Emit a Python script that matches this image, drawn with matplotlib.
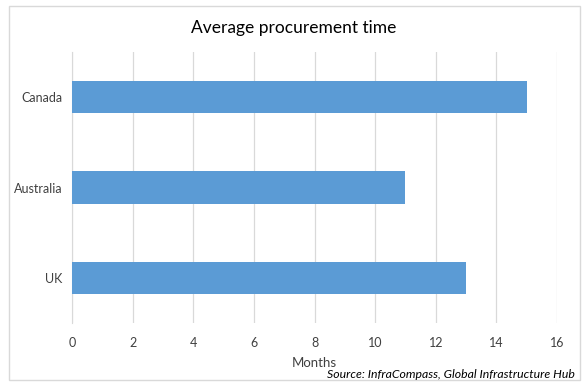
import matplotlib
matplotlib.use("Agg")
import matplotlib.pyplot as plt
from matplotlib.patches import Rectangle

countries = ["Canada", "Australia", "UK"]
months = [15, 11, 13]
xticks = [0, 2, 4, 6, 8, 10, 12, 14, 16]

plt.rcParams['font.family'] = ['Lato', 'DejaVu Sans']

fig = plt.figure(figsize=(5.87, 3.92), dpi=100)
ax = fig.add_axes([72/587, 1 - 323/392, 485/587, 271/392])

# outer chart border
fig.patches.append(Rectangle((9/587, 1 - 380/392), 571/587, 374/392,
                             transform=fig.transFigure, fill=False,
                             edgecolor="#d9d9d9", linewidth=1))

ax.barh(countries, months, height=0.36, color="#5b9bd5", zorder=3)
ax.set_ylim(2.5, -0.5)
ax.set_xlim(0, 16)
ax.set_xticks(xticks)
ax.grid(axis="x", color="#d9d9d9", linewidth=0.9, zorder=0)
for s in ["top", "right", "bottom"]:
    ax.spines[s].set_visible(False)
ax.spines["left"].set_color("#d9d9d9")
ax.tick_params(length=0, labelsize=9, colors="#404040", pad=7)
ax.tick_params(axis="x", pad=10)

ax.set_xlabel("Months", fontsize=9.5, color="#404040", labelpad=6)
fig.text(0.5, 1 - 28/392, "Average procurement time", ha="center", va="center",
         fontsize=12.5, color="#000000")
fig.text(575/587, 1 - 374/392, "Source: InfraCompass, Global Infrastructure Hub",
         ha="right", va="center", fontsize=8.8, style="italic", color="#000000")

fig.savefig("out.png", dpi=100)
